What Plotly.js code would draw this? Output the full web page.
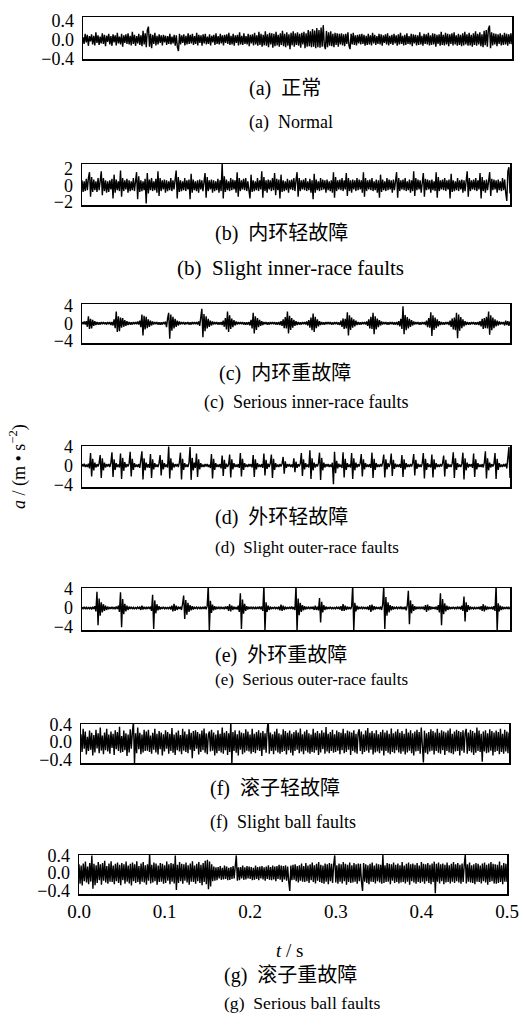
<!DOCTYPE html>
<html>
<head>
<meta charset="utf-8">
<script src="https://cdn.plot.ly/plotly-3.0.1.min.js"></script>
<style>html,body{margin:0;padding:0;background:#fff}#chart{width:524px;height:1031px}</style>
</head>
<body>
<div id="chart"></div>
<script>
// sample interval of the plotted signals (s): 401 samples over 0 - 0.5 s
const SAMPLE_DT = 0.00125;

// (a) Normal
const normal = [
0.05,-0.09,0.12,-0.06,0.1,-0.13,0.07,-0.04,0.11,-0.1,0.08,-0.12,0.15,-0.07,0.09,-0.11,0.06,-0.08,0.13,-0.09,
0.1,-0.14,0.08,-0.05,0.12,-0.1,0.07,-0.13,0.11,-0.06,0.09,-0.12,0.14,-0.08,0.06,-0.1,0.12,-0.15,0.09,-0.07,
0.11,-0.09,0.13,-0.1,0.08,-0.12,0.16,-0.09,0.1,-0.13,0.07,-0.08,0.12,-0.11,0.09,-0.14,0.18,-0.1,0.13,-0.16,
0.2,0.27,-0.15,0.12,-0.18,0.1,-0.09,0.14,-0.12,0.08,-0.1,0.11,-0.07,0.09,-0.12,0.1,-0.06,0.08,-0.11,0.07,
-0.09,0.12,-0.1,0.06,-0.08,0.1,-0.13,0.09,-0.16,-0.24,0.12,-0.1,0.09,-0.07,0.11,-0.12,0.08,-0.1,0.13,-0.09,
0.1,-0.08,0.12,-0.11,0.07,-0.09,0.14,-0.12,0.1,-0.07,0.09,-0.13,0.11,-0.08,0.12,-0.1,0.06,-0.09,0.11,-0.12,
0.08,-0.06,0.1,-0.11,0.13,-0.09,0.07,-0.1,0.12,-0.08,0.09,-0.12,0.1,-0.07,0.11,-0.09,0.14,-0.11,0.08,-0.1,
0.12,-0.13,0.09,-0.07,0.1,-0.12,0.15,-0.1,0.08,-0.11,0.13,-0.09,0.07,-0.1,0.12,-0.14,0.1,-0.08,0.11,-0.12,
0.14,-0.1,0.09,-0.13,0.16,-0.11,0.12,-0.15,0.1,-0.12,0.17,-0.13,0.11,-0.16,0.14,-0.1,0.13,-0.17,0.12,-0.14,
0.16,-0.12,0.1,-0.15,0.13,-0.11,0.18,-0.14,0.12,-0.16,0.15,-0.13,0.11,-0.2,0.14,-0.12,0.17,-0.15,0.13,-0.11,
0.15,-0.13,0.12,-0.17,0.14,-0.1,0.16,-0.18,0.13,-0.15,0.2,-0.14,0.17,-0.16,0.22,-0.15,0.19,-0.18,0.24,-0.16,
0.2,-0.17,0.25,-0.15,0.3,-0.12,-0.2,0.18,-0.16,0.15,-0.13,0.17,-0.14,0.12,-0.16,0.14,-0.11,0.13,-0.15,0.12,
-0.1,0.13,-0.12,0.11,-0.14,0.12,-0.09,0.15,-0.13,-0.2,0.12,-0.1,0.14,-0.11,0.09,-0.12,0.1,-0.08,0.11,-0.1,
0.12,-0.09,0.1,-0.13,0.08,-0.11,0.12,-0.1,0.09,-0.12,0.14,-0.08,0.1,-0.11,0.07,-0.09,0.12,-0.1,0.11,-0.13,
0.09,-0.07,0.11,-0.1,0.13,-0.12,0.08,-0.09,0.1,-0.11,0.12,-0.08,0.09,-0.13,0.11,-0.1,0.14,-0.09,0.08,-0.12,
0.1,-0.11,0.13,-0.09,0.07,-0.1,0.12,-0.14,0.11,-0.08,0.1,-0.12,0.09,-0.11,0.15,-0.1,0.08,-0.13,0.12,-0.09,
0.11,-0.1,0.14,-0.12,0.09,-0.11,0.13,-0.1,0.12,-0.15,0.1,-0.09,0.11,-0.13,0.16,-0.11,0.1,-0.12,0.14,-0.1,
0.12,-0.14,0.11,-0.09,0.13,-0.12,0.15,-0.1,0.09,-0.13,0.12,-0.11,0.1,-0.14,0.13,-0.12,0.16,-0.1,0.11,-0.13,
0.14,-0.12,0.1,-0.15,0.13,-0.11,0.17,-0.13,0.12,-0.1,0.15,-0.14,0.11,-0.16,0.18,-0.12,0.2,-0.15,0.22,0.29,
-0.18,0.15,-0.12,0.13,-0.1,0.12,-0.14,0.11,-0.09,0.13,-0.12,0.1,-0.11,0.14,-0.1,0.12,-0.13,0.11,-0.09,0.13,
-0.1];

// (b) Slight inner-race faults
const slightInner = [
0.6,-0.8,0.5,-0.7,0.8,-0.6,0.9,1.6,-1.4,1.0,-0.8,0.7,-0.6,0.5,-0.8,0.9,-0.6,0.7,1.7,-1.2,
0.9,-0.7,0.6,-0.9,0.5,-0.8,0.6,-0.5,0.8,-1.6,1.3,-0.9,0.7,-0.6,0.5,-0.7,1.8,-1.4,0.9,-0.7,
0.6,-0.5,0.8,-0.9,0.6,-0.7,0.5,-0.6,0.9,-0.7,0.6,1.6,-1.7,1.1,-0.8,0.6,-0.7,0.5,-0.6,0.8,
-2.2,1.5,-1.0,0.7,-0.6,0.9,-0.7,0.5,-0.6,0.8,-0.9,1.7,-1.3,0.9,-0.7,0.6,-0.5,0.7,-0.9,0.6,
-0.7,0.5,-0.6,0.9,-0.7,0.6,-0.5,0.8,1.8,-1.6,1.0,-0.8,0.6,-0.7,0.5,-0.6,0.9,-0.7,0.6,-0.5,
0.7,-1.7,1.4,-0.9,0.7,-0.6,0.5,-0.7,0.6,-0.9,0.7,-0.5,0.6,-0.7,0.9,1.5,-1.5,1.0,-0.7,0.6,
-0.5,0.7,-0.9,0.6,-0.7,0.5,-0.6,0.8,-0.9,0.6,-0.7,2.7,-1.6,1.1,-0.8,0.7,-0.6,0.5,-0.7,0.9,
-0.6,0.7,-0.5,0.6,-0.9,1.6,-1.4,0.9,-0.7,0.6,-0.5,0.8,-0.6,0.9,-0.7,0.5,-0.6,-1.6,1.3,-0.8,
0.6,-0.7,0.5,-0.6,0.9,-0.7,0.6,-0.5,1.7,-1.5,1.0,-0.7,0.6,-0.9,0.7,-0.5,0.6,-0.7,0.9,-0.6,
1.5,-1.2,0.8,-0.6,0.7,-1.6,1.3,-0.8,0.6,-0.7,0.5,-0.6,0.8,-0.9,0.6,-0.5,0.7,-0.6,0.9,-0.7,
0.6,1.6,-1.4,0.9,-0.7,0.6,-0.5,0.7,-0.6,0.9,-0.7,0.5,-0.6,0.8,-0.9,0.6,-1.7,1.4,-0.9,0.7,
-0.6,0.5,-0.7,0.9,-0.6,0.7,-0.5,0.6,-0.9,0.7,-0.6,0.5,-0.7,0.6,-0.9,1.6,-1.5,1.0,-0.7,0.6,
-0.5,0.7,-0.6,0.9,-0.7,0.6,-0.5,1.5,-1.3,0.9,-0.7,0.6,-0.9,0.7,-0.5,0.6,-0.7,0.9,-0.6,0.7,
-0.5,0.6,-0.9,1.6,-1.4,0.9,-0.7,0.6,-0.5,0.7,-0.6,0.9,-0.7,0.5,-0.6,0.7,-0.9,0.6,-1.5,1.3,
-0.8,0.7,-0.6,0.5,-0.7,0.9,-0.6,0.7,-0.5,0.6,-0.9,0.7,-0.6,0.5,1.6,-1.5,0.9,-0.7,0.6,-0.5,
0.7,-0.6,0.9,-0.7,0.5,-0.6,0.7,-0.9,0.6,-0.7,1.7,-1.3,0.9,-0.6,0.7,-0.5,0.6,-0.9,0.7,1.5,
-1.4,0.8,-0.6,0.7,-0.5,0.6,-0.9,0.7,-0.6,0.5,-0.7,1.6,-1.5,1.0,-0.7,0.6,-0.5,0.7,-0.6,0.9,
-0.7,0.6,-0.5,0.7,-1.6,1.4,-0.8,0.6,-0.7,0.5,-0.6,0.9,-0.7,0.6,-0.5,0.7,-0.9,0.6,-0.7,0.5,
1.7,-1.4,0.9,-0.7,0.6,-0.5,0.7,-0.6,0.9,-0.7,0.6,-0.5,1.5,-1.6,1.0,-0.7,0.6,-0.9,0.7,-0.6,
0.5,1.6,-1.3,0.8,-0.6,0.7,-0.5,0.6,-0.9,0.7,-0.6,0.5,-0.7,0.9,-0.6,0.7,-0.9,-1.9,1.7,2.2,
-1.0];

// (c) Serious inner-race faults
const seriousInner = [
0.3,-0.2,0.4,-0.3,0.5,-0.8,1.6,-1.3,1.0,-1.2,0.8,-0.6,0.5,-0.4,0.3,-0.3,0.2,-0.3,0.3,-0.2,
0.3,-0.2,0.2,-0.3,0.3,-0.2,0.3,-0.4,0.3,-0.5,0.9,-1.1,2.7,-2.0,1.6,-1.8,1.3,-1.0,1.2,-0.8,
0.7,-0.6,0.5,-0.4,0.3,-0.3,0.2,-0.3,0.3,-0.2,0.3,-0.2,0.4,-0.3,0.6,-0.9,2.0,-2.8,1.7,-1.4,
1.5,-1.1,0.9,-0.8,0.6,-0.5,0.4,-0.3,0.3,-0.2,0.3,-0.3,0.2,-0.3,0.2,-0.3,0.3,-0.2,0.4,-0.9,
1.1,2.4,-3.5,2.0,-1.7,1.5,-1.2,1.0,-0.8,0.6,-0.5,0.4,-0.3,0.3,-0.2,0.3,-0.3,0.2,-0.2,0.3,
-0.3,0.2,-0.3,0.3,-0.2,0.3,-0.2,0.3,-0.3,0.4,-0.6,0.9,3.3,-3.2,2.1,-1.8,1.6,-1.2,1.0,-0.8,
0.6,-0.5,0.4,-0.3,0.3,-0.2,0.3,-0.3,0.2,-0.3,0.3,-0.4,0.6,-0.8,1.2,-1.4,2.7,-2.0,1.8,-1.3,
1.1,-0.9,0.7,-0.5,0.4,-0.3,0.3,-0.2,0.3,-0.2,0.3,-0.3,0.2,-0.3,0.2,-0.3,0.3,-0.5,0.8,-1.2,
2.4,-2.3,1.6,-1.5,1.2,-0.9,0.8,-0.6,0.5,-0.4,0.3,-0.2,0.3,-0.3,0.2,-0.3,0.3,-0.2,0.3,-0.2,
0.3,-0.3,0.2,-0.3,0.3,-0.4,0.5,-0.6,0.9,-1.1,1.4,-1.2,2.7,-2.3,1.7,-1.5,1.2,-1.0,0.8,-0.6,
0.5,-0.4,0.3,-0.3,0.2,-0.3,0.3,-0.2,0.3,-0.3,0.4,-0.5,0.7,-1.0,1.3,-1.6,2.2,-2.0,1.5,-1.1,
0.9,-0.7,0.5,-0.4,0.3,-0.3,0.2,-0.3,0.3,-0.2,0.3,-0.2,0.3,-0.3,0.2,-0.3,0.3,-0.2,0.3,-0.3,
0.2,-0.4,0.6,-0.8,1.1,-1.3,1.0,-1.2,2.5,-2.8,1.8,-1.5,1.3,-1.0,0.9,-0.7,0.6,-0.4,0.3,-0.3,
0.2,-0.3,0.3,-0.2,0.3,-0.3,0.4,-0.6,0.9,-1.2,1.5,-1.3,2.4,-2.5,1.6,-1.4,1.1,-0.9,0.7,-0.5,
0.4,-0.3,0.3,-0.2,0.3,-0.3,0.2,-0.3,0.3,-0.2,0.3,-0.3,0.2,-0.3,0.3,-0.4,0.5,-0.7,1.0,-1.3,
3.9,-2.5,1.9,-1.6,1.4,-1.2,1.0,-0.8,0.7,-0.5,0.4,-0.3,0.3,-0.2,0.3,-0.3,0.2,-0.3,0.3,-0.2,
0.3,-0.4,0.6,-0.9,1.2,-1.0,2.5,-2.9,1.8,-1.5,1.3,-1.1,0.9,-0.7,0.5,-0.4,0.3,-0.3,0.2,-0.3,
0.3,-0.2,0.3,-0.4,0.6,-0.8,1.1,-1.4,1.3,-1.6,2.4,-3.4,2.0,-1.7,1.4,-1.1,0.9,-0.7,0.5,-0.4,
0.3,-0.3,0.2,-0.3,0.3,-0.2,0.3,-0.3,0.2,-0.3,0.3,-0.4,0.5,-0.7,1.0,-1.3,1.2,-1.1,1.5,-1.2,
2.7,-2.6,1.8,-1.6,1.3,-1.1,0.9,-0.7,0.6,-0.5,0.4,-0.3,0.3,-0.2,0.3,-0.5,0.6,-0.4,0.5,-0.6,
0.4];

// (d) Slight outer-race faults
const slightOuter = [
0.3,-0.2,0.4,-0.3,0.2,-0.3,0.4,-0.6,2.6,-2.3,1.4,-1.0,0.6,-0.4,0.3,-0.2,0.5,2.2,-2.6,1.5,
-1.0,0.6,-0.4,0.3,-0.2,0.3,-0.3,0.6,2.8,-2.4,1.3,-0.9,0.5,-0.3,0.2,-0.4,2.5,-2.8,1.6,-1.1,
0.7,-0.4,0.3,-0.2,0.4,2.9,-2.3,1.4,-0.9,0.5,-0.3,0.2,-0.3,0.3,-0.5,0.8,3.0,-2.9,1.5,-1.0,
0.6,-0.4,0.3,-0.5,2.4,-2.6,1.3,-0.8,0.5,-0.3,0.2,-0.3,0.5,2.2,-2.1,1.2,-0.8,0.5,-0.3,0.2,
-0.4,4.0,-2.7,1.5,-1.0,0.6,-0.4,0.3,-0.2,0.3,-0.3,0.6,2.7,-2.9,1.4,-0.9,0.5,-0.3,0.2,-0.3,
0.6,3.9,-3.0,1.6,-1.0,0.6,-0.5,2.5,-2.4,1.3,-0.8,0.5,-0.3,0.2,-0.3,0.3,-0.2,0.3,-0.3,0.2,
-0.5,2.4,-2.7,1.4,-0.9,0.5,-0.3,0.2,-0.3,0.3,-0.6,2.1,-2.2,1.2,-0.7,0.4,-0.3,0.2,2.3,-2.5,
1.3,-0.8,0.5,-0.3,0.2,-0.3,0.3,-0.5,2.6,-2.3,1.4,-0.9,0.5,-0.3,0.2,-0.3,0.3,-0.2,0.3,-0.4,
2.2,-2.4,1.3,-0.8,0.5,-0.3,0.2,-0.3,0.3,-0.5,2.5,-2.1,1.2,-0.7,0.4,-0.3,0.5,2.3,-2.6,1.4,
-0.9,0.5,-0.3,0.2,-0.3,0.3,-0.2,0.4,1.8,-1.7,0.9,-0.5,0.3,-0.2,0.3,-0.3,0.2,-0.4,1.5,-1.4,
0.8,-0.5,0.3,-0.2,0.4,2.6,-2.2,1.3,-0.8,0.5,-0.3,0.2,-0.4,3.2,-2.8,1.5,-1.0,0.6,-0.4,0.3,
-0.2,0.5,2.7,-3.0,1.6,-1.0,0.6,-0.4,0.3,-0.2,0.3,-0.3,0.2,-0.3,0.6,-3.9,2.9,-1.6,1.0,-0.6,
0.4,-0.3,0.2,-0.5,2.8,-2.5,1.4,-0.9,0.5,-0.3,0.2,-0.4,2.6,-2.8,1.5,-1.0,0.6,-0.4,0.3,-0.2,
0.5,2.4,-2.3,1.3,-0.8,0.5,-0.3,0.2,-0.3,0.3,-0.5,2.7,-2.6,1.4,-0.9,0.5,-0.3,0.2,-0.3,0.3,
-0.2,0.6,2.3,-2.5,1.3,-0.8,0.5,-0.3,0.4,2.5,-2.2,1.2,-0.7,0.4,-0.3,0.2,-0.3,0.3,-0.5,2.2,
-2.4,1.3,-0.8,0.5,-0.3,0.2,-0.3,0.3,-0.2,0.5,2.4,-2.1,1.2,-0.7,0.4,-0.3,0.2,-0.3,0.5,2.6,
-2.7,1.4,-0.9,0.5,-0.3,0.2,-0.4,2.3,-2.5,1.3,-0.8,0.5,-0.3,0.2,-0.3,0.3,-0.2,0.5,2.1,-2.3,
1.2,-0.7,0.4,-0.3,0.2,-0.3,0.5,2.8,-2.6,1.5,-0.9,0.5,-0.3,0.2,-0.3,0.4,2.7,-2.9,1.5,-1.0,
0.6,-0.4,0.3,-0.2,0.3,-0.5,2.5,-2.4,1.3,-0.8,0.5,-0.3,0.2,-0.3,0.3,-0.4,0.6,3.0,-2.7,1.5,
-1.0,0.6,-0.4,0.3,-0.2,0.4,2.6,-2.8,1.4,-0.9,0.5,-0.3,0.2,-0.3,0.3,-0.2,0.4,-0.6,2.4,3.9,
-2.6];

// (e) Serious outer-race faults
const seriousOuter = [
0.2,-0.15,0.25,-0.2,0.15,-0.25,0.2,-0.15,0.2,-0.3,0.25,-0.2,0.4,-0.7,3.4,-3.6,2.0,-1.6,1.2,-0.9,
0.8,-0.6,0.5,-0.4,0.3,-0.25,0.2,-0.2,0.25,-0.15,0.2,-0.25,0.3,-0.2,0.5,-0.8,3.3,-4.0,1.9,-1.3,
0.9,-0.7,0.5,-0.4,0.3,-0.2,0.25,-0.2,0.15,-0.25,0.2,-0.15,0.2,-0.2,0.3,-0.4,0.5,-0.3,0.25,-0.2,
0.15,-0.2,0.25,-0.2,0.3,-0.6,2.8,-4.4,1.6,-1.1,0.8,-0.5,0.4,-0.3,0.2,-0.2,0.25,-0.15,0.2,-0.25,
0.2,-0.15,0.25,-0.3,0.5,-0.7,0.9,-0.6,0.5,-0.4,0.3,-0.2,0.25,-0.4,0.9,2.6,-2.3,1.7,-1.4,1.1,
-0.8,0.6,-0.5,0.4,-0.3,0.25,-0.2,0.2,-0.15,0.25,-0.2,0.15,-0.2,0.25,-0.2,0.3,-0.25,0.4,4.8,-4.8,
1.5,-1.0,0.7,-0.5,0.4,-0.3,0.25,-0.2,0.2,-0.15,0.25,-0.2,0.2,-0.25,0.3,-0.2,0.4,-0.6,0.8,-0.7,
0.5,-0.4,0.3,-0.25,0.2,-0.3,0.5,-0.8,3.1,-4.4,1.8,-1.2,0.9,-0.6,0.4,-0.3,0.25,-0.2,0.2,-0.15,
0.25,-0.2,0.15,-0.2,0.25,-0.2,0.3,-0.25,0.3,-0.6,4.8,-4.8,1.2,-0.8,0.5,-0.4,0.3,-0.25,0.2,-0.2,
0.25,-0.15,0.2,-0.25,0.3,-0.5,0.7,-0.6,0.5,-0.4,0.3,-0.25,0.2,-0.2,0.25,-0.2,0.3,-0.25,0.2,-0.4,
4.8,-4.8,2.0,-1.5,1.1,-0.8,0.6,-0.5,0.4,-0.3,0.25,-0.2,0.2,-0.15,0.25,-0.2,0.3,-0.4,0.5,-0.4,
0.3,-0.5,2.1,-3.0,1.3,-0.9,0.6,-0.4,0.3,-0.25,0.2,-0.2,0.25,-0.15,0.2,-0.25,0.2,-0.15,0.2,-0.2,
0.25,-0.3,0.4,-0.6,0.8,-0.6,0.5,-0.4,0.3,-0.25,0.2,-0.25,0.3,4.8,-4.8,1.1,-0.7,0.5,-0.3,0.25,
-0.2,0.2,-0.15,0.25,-0.2,0.2,-0.25,0.3,-0.4,0.6,-0.8,0.7,-0.5,0.4,-0.3,0.25,-0.2,0.2,-0.25,0.3,
-0.4,0.7,4.6,-4.4,2.3,-1.6,1.2,-0.9,0.6,-0.5,0.4,-0.3,0.25,-0.2,0.2,-0.15,0.25,-0.2,0.3,-0.25,
0.2,-0.25,0.3,-0.5,0.6,3.6,-3.4,1.6,-1.1,0.8,-0.6,0.4,-0.3,0.25,-0.2,0.2,-0.15,0.25,-0.2,0.3,
-0.4,0.6,-0.8,0.7,-0.5,0.4,-0.3,0.25,-0.2,0.2,-0.25,0.3,-0.4,0.6,-0.9,3.1,-3.6,1.9,-1.3,1.0,
-0.7,0.5,-0.4,0.3,-0.25,0.2,-0.2,0.25,-0.15,0.2,-0.25,0.3,-0.2,0.25,-0.3,0.5,-0.6,2.4,-2.8,1.2,
-0.8,0.6,-0.4,0.3,-0.25,0.2,-0.2,0.15,-0.25,0.2,-0.2,0.25,-0.3,0.4,-0.6,0.8,-0.7,0.5,-0.4,0.3,
-0.25,0.2,-0.2,0.25,-0.3,0.4,-0.6,4.8,-4.8,1.0,-0.7,0.5,-0.4,0.3,-0.25,0.2,-0.2,0.25,-0.2,0.15,
-0.2];

// (f) Slight ball faults
const slightBall = [
0.18,-0.22,0.3,-0.15,0.24,-0.28,0.12,-0.2,0.26,-0.17,0.21,-0.3,0.16,-0.23,0.28,-0.14,0.2,-0.25,0.33,-0.19,
0.15,-0.27,0.22,-0.18,0.3,-0.21,0.17,-0.26,0.24,-0.13,0.19,-0.29,0.27,-0.16,0.23,-0.2,0.35,-0.24,0.14,-0.22,
0.26,-0.18,0.2,-0.31,0.17,-0.23,0.29,-0.15,0.22,0.46,-0.48,0.2,-0.25,0.33,-0.16,0.21,-0.27,0.17,-0.23,0.28,
-0.2,0.24,-0.19,0.28,-0.22,0.15,-0.26,0.21,-0.17,0.3,-0.23,0.19,-0.28,0.25,-0.16,0.22,-0.3,0.18,-0.21,0.27,
-0.15,0.23,-0.26,0.19,-0.2,0.32,-0.24,0.17,-0.29,0.22,-0.18,0.26,-0.21,0.16,-0.27,0.3,-0.19,0.24,-0.22,0.18,
-0.25,0.29,-0.17,0.21,-0.36,0.25,-0.2,0.27,-0.15,0.23,-0.28,0.19,-0.22,0.26,-0.18,0.31,-0.24,0.2,-0.27,0.16,
0.24,-0.21,0.28,-0.19,0.22,-0.3,0.17,-0.25,0.27,-0.2,0.19,-0.23,0.33,-0.26,0.21,-0.18,0.25,-0.29,0.2,-0.22,
0.45,-0.48,0.23,-0.2,0.27,-0.24,0.18,-0.3,0.26,-0.17,0.22,-0.27,0.2,-0.23,0.29,-0.19,0.24,-0.21,0.17,-0.26,
0.3,-0.22,0.19,-0.25,0.23,-0.18,0.27,-0.2,0.21,-0.31,0.25,-0.17,0.2,-0.24,0.28,0.47,-0.26,0.22,-0.2,0.18,
-0.27,0.24,-0.19,0.3,-0.23,0.2,-0.26,0.17,-0.22,0.29,-0.2,0.25,-0.28,0.21,-0.18,0.26,-0.24,0.19,-0.3,0.23,
-0.2,0.27,-0.17,0.22,-0.25,0.31,-0.21,0.18,-0.27,0.24,-0.19,0.28,-0.23,0.2,-0.26,0.17,-0.22,0.3,-0.24,0.21,
-0.18,0.25,-0.29,0.2,-0.23,0.27,-0.16,0.22,-0.26,0.34,-0.21,0.19,-0.25,0.23,-0.2,0.28,-0.24,0.18,-0.22,0.26,
-0.19,0.23,-0.27,0.21,-0.18,0.3,-0.25,0.2,-0.22,0.26,-0.17,0.24,-0.29,0.22,-0.2,0.27,-0.23,0.19,-0.26,0.21,
0.29,-0.2,0.24,-0.27,0.18,-0.22,0.26,-0.19,0.32,-0.24,0.21,-0.17,0.25,-0.28,0.2,-0.23,0.27,-0.21,0.18,-0.25,
0.23,-0.19,0.28,-0.3,0.22,-0.2,0.26,-0.24,0.19,-0.27,0.31,-0.22,0.2,-0.25,0.24,-0.18,0.29,-0.23,0.21,-0.26,
0.25,-0.21,0.19,-0.28,0.3,-0.23,0.22,-0.19,0.27,-0.25,0.2,-0.3,0.24,-0.21,0.28,-0.2,0.23,-0.26,0.33,-0.22,
-0.46,0.26,-0.24,0.2,-0.27,0.23,-0.21,0.29,-0.19,0.25,-0.28,0.22,-0.2,0.3,-0.24,0.21,-0.26,0.27,-0.18,0.24,
-0.29,0.22,-0.2,0.26,-0.23,0.31,-0.25,0.19,-0.27,0.24,-0.21,0.28,-0.2,0.25,-0.3,0.23,-0.19,0.27,-0.24,0.2,
0.3,-0.26,0.22,-0.2,0.28,-0.23,0.25,-0.29,0.21,-0.24,0.33,-0.2,0.26,-0.22,0.19,-0.44,0.24,-0.21,0.27,-0.25,
0.2,-0.23,0.29,-0.19,0.25,-0.3,0.22,-0.22,0.26,-0.2,0.23,-0.27,0.3,-0.22,0.19,-0.26,0.28,-0.21,0.24,-0.25,
0.22];

// (g) Serious ball faults
const seriousBall = [
0.2,-0.24,0.17,-0.28,0.22,-0.18,0.26,-0.21,0.15,-0.25,0.23,-0.19,0.4,-0.35,0.21,-0.27,0.18,-0.22,0.25,-0.16,
0.2,-0.26,0.23,-0.17,0.28,-0.21,0.16,-0.24,0.22,-0.19,0.27,-0.2,0.17,-0.25,0.21,-0.18,0.24,-0.22,0.19,-0.27,
0.23,-0.16,0.2,-0.24,0.26,-0.19,0.17,-0.23,0.21,-0.28,0.24,-0.18,0.2,-0.22,0.27,-0.2,0.16,-0.25,0.22,-0.19,
0.25,-0.21,0.18,-0.26,0.2,-0.17,0.45,-0.23,0.19,-0.21,0.24,-0.18,0.22,-0.26,0.17,-0.2,0.23,-0.19,0.21,-0.24,
0.18,-0.22,0.26,-0.17,0.2,-0.25,0.23,-0.19,0.21,-0.23,0.4,-0.38,0.19,-0.22,0.25,-0.18,0.21,-0.24,0.2,-0.17,
0.24,-0.21,0.18,-0.26,0.22,-0.19,0.27,-0.2,0.17,-0.24,0.21,-0.18,0.25,-0.22,0.19,-0.27,0.23,-0.2,0.28,-0.25,
0.3,-0.36,0.26,-0.3,0.2,-0.18,0.15,-0.17,0.13,-0.16,0.14,-0.12,0.16,-0.15,0.12,-0.14,0.17,-0.13,0.15,-0.16,
0.12,-0.15,0.14,-0.13,0.16,-0.12,0.15,0.4,-0.17,0.13,-0.16,0.14,-0.12,0.17,-0.15,0.13,-0.14,0.16,-0.12,0.15,
-0.13,0.14,-0.16,0.12,-0.15,0.17,-0.13,0.14,-0.16,0.15,-0.12,0.16,-0.14,0.13,-0.17,0.15,-0.13,0.18,-0.15,0.14,
-0.16,0.17,-0.14,0.15,-0.18,0.16,-0.13,0.19,-0.15,0.17,-0.2,0.16,-0.14,0.18,-0.17,0.15,-0.19,-0.4,0.17,-0.16,
0.19,-0.15,0.2,-0.18,0.16,-0.21,0.18,-0.17,0.22,-0.19,0.16,-0.2,0.23,-0.18,0.17,-0.22,0.2,-0.16,0.24,-0.2,
0.18,-0.23,0.21,-0.17,0.25,-0.2,0.19,-0.22,0.17,-0.24,0.22,-0.19,0.2,-0.25,0.23,-0.18,0.21,-0.22,0.19,0.4,
-0.21,0.18,-0.24,0.22,-0.19,0.2,-0.23,0.25,-0.18,0.21,-0.26,0.19,-0.2,0.24,-0.22,0.18,-0.21,0.23,-0.19,0.2,
-0.24,0.22,-0.18,0.21,-0.2,-0.4,0.23,-0.19,0.2,-0.22,0.18,-0.25,0.21,-0.19,0.24,-0.2,0.17,-0.23,0.22,-0.18,
0.2,-0.21,0.19,-0.24,0.42,-0.22,0.18,-0.2,0.23,-0.19,0.21,-0.25,0.2,-0.17,0.24,-0.22,0.19,-0.2,0.22,-0.23,
0.18,-0.21,0.25,-0.2,0.17,-0.23,0.21,-0.19,0.24,-0.26,0.2,-0.18,0.22,-0.21,0.19,-0.24,0.23,-0.2,0.17,-0.22,
0.25,-0.19,0.21,-0.24,0.2,-0.18,0.23,-0.22,0.19,-0.25,0.22,-0.2,0.26,-0.45,0.21,-0.19,0.24,-0.23,0.2,-0.18,
0.22,-0.25,0.19,-0.21,0.24,-0.2,0.18,-0.23,0.21,-0.19,0.25,-0.22,0.2,-0.18,0.23,-0.21,0.19,-0.24,0.22,-0.2,
0.18,0.42,-0.23,0.2,-0.19,0.24,-0.21,0.18,-0.22,0.2,-0.25,0.23,-0.19,0.21,-0.2,0.17,-0.23,0.22,-0.18,0.24,
-0.21,0.19,-0.26,0.22,-0.2,0.25,-0.18,0.21,-0.23,0.2,-0.24,0.19,-0.22,0.26,-0.2,0.18,-0.25,0.23,-0.19,0.21,
-0.2];

const series = [normal, slightInner, seriousInner, slightOuter, seriousOuter, slightBall, seriousBall];
const yTicks = [[-0.4,0,0.4],[-2,0,2],[-4,0,4],[-4,0,4],[-4,0,4],[-0.4,0,0.4],[-0.4,0,0.4]];
const xTicks = [0, 0.1, 0.2, 0.3, 0.4, 0.5];
const captionsCN = ["(a)\u00a0\u00a0正常","(b)\u00a0\u00a0内环轻故障","(c)\u00a0\u00a0内环重故障","(d)\u00a0\u00a0外环轻故障","(e)\u00a0\u00a0外环重故障","(f)\u00a0\u00a0滚子轻故障","(g)\u00a0\u00a0滚子重故障"];
const captionsEN = ["(a)\u00a0\u00a0Normal","(b)\u00a0\u00a0Slight inner-race faults","(c)\u00a0\u00a0Serious inner-race faults","(d)\u00a0\u00a0Slight outer-race faults","(e)\u00a0\u00a0Serious outer-race faults","(f)\u00a0\u00a0Slight ball faults","(g)\u00a0\u00a0Serious ball faults"];
const xTitle = "<i>t</i> / s";
const yTitle = "<i>a</i> / (m • s<sup>−2</sup>)";

// ---- layout geometry (pixels) ----
const W = 524, H = 1031;
const boxes = [ // [left, right, top, bottom]
  [83,512,17,59],[82,510,164,205],[82,510,304,343],[82,510,446,487],[82,510,588,630],[81,509,724,763],[79,507,855,894]
];
const yRanges = [[-0.405,0.47],[-2.4,2.6],[-4.5,4.4],[-4.5,4.1],[-4.6,4.2],[-0.47,0.41],[-0.47,0.41]];
const cnPos = [[247,88],[213,234],[217,373],[213,517],[213,655],[208,788],[222,975]];
const enPos = [[247,123],[175,268],[202,402],[213,547],[213,679],[208,822],[222,1003]];
const enSize = [18,21,18,17,17,18,17.6];

const FONT = "'Liberation Serif', 'Times New Roman', 'Noto Sans CJK SC', serif";
const traces = [];
const layout = {
  width: W, height: H, margin: {l:0,r:0,t:0,b:0},
  paper_bgcolor: '#fff', plot_bgcolor: '#fff', showlegend: false,
  font: {family: FONT, color: '#000', size: 18},
  annotations: []
};
series.forEach((vals, k) => {
  const t = vals.map((_, i) => i * SAMPLE_DT);
  const s = k === 0 ? '' : String(k + 1);
  traces.push({x: t, y: vals, type: 'scatter', mode: 'lines', xaxis: 'x' + s, yaxis: 'y' + s,
    line: {color: '#000', width: 1.4}, hoverinfo: 'skip'});
  const b = boxes[k];
  const last = k === series.length - 1;
  layout['xaxis' + s] = {
    domain: [b[0] / W, b[1] / W], anchor: 'y' + s, range: [0, 0.5],
    showgrid: false, zeroline: false, showline: true, mirror: true, linecolor: '#000', linewidth: 1.5,
    ticks: '', tickvals: xTicks, tickformat: '.1f', showticklabels: last,
    tickfont: {size: 19, family: FONT}
  };
  layout['yaxis' + s] = {
    domain: [1 - b[3] / H, 1 - b[2] / H], anchor: 'x' + s, range: yRanges[k],
    showgrid: false, zeroline: false, showline: true, mirror: true, linecolor: '#000', linewidth: 1.5,
    ticks: '', tickvals: yTicks[k], tickformat: (k === 0 || k >= 5) ? '.1f' : 'd',
    tickfont: {size: 18, family: FONT}, ticklabelstandoff: 4
  };
  layout.annotations.push({xref:'paper', yref:'paper', x: cnPos[k][0] / W, y: 1 - cnPos[k][1] / H,
    xanchor:'left', yanchor:'middle', showarrow:false, text: captionsCN[k], font:{size:20, family: FONT}});
  layout.annotations.push({xref:'paper', yref:'paper', x: enPos[k][0] / W, y: 1 - enPos[k][1] / H,
    xanchor:'left', yanchor:'middle', showarrow:false, text: captionsEN[k], font:{size: enSize[k], family: FONT}});
});
layout.annotations.push({xref:'paper', yref:'paper', x: 289 / W, y: 1 - 950 / H, xanchor:'center', yanchor:'middle',
  showarrow:false, text: xTitle, font:{size:19, family: FONT}});
layout.annotations.push({xref:'paper', yref:'paper', x: 18 / W, y: 1 - 467 / H, xanchor:'center', yanchor:'middle',
  textangle: -90, showarrow:false, text: yTitle, font:{size:18, family: FONT}});

Plotly.newPlot('chart', traces, layout, {staticPlot: true, displayModeBar: false});
</script>
</body>
</html>
